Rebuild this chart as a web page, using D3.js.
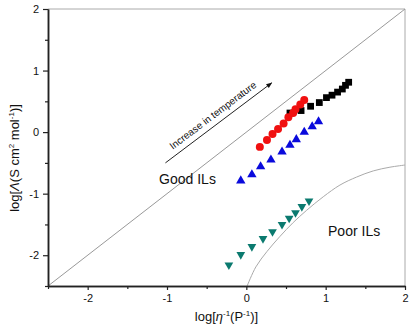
<!DOCTYPE html>
<html>
<head>
<meta charset="utf-8">
<script src="https://cdn.jsdelivr.net/npm/d3@7"></script>
<style>
  body { margin: 0; background: #fff; }
  svg text { font-family: "Liberation Sans", Arial, sans-serif; fill: #111; }
</style>
</head>
<body>
<svg id="chart"></svg>
<script>
// Series values (log units)
const squaresX = [0.55, 0.69, 0.81, 0.92, 1.01, 1.08, 1.15, 1.21, 1.25, 1.29];
const squaresY = [0.31, 0.35, 0.42, 0.48, 0.56, 0.60, 0.65, 0.70, 0.76, 0.81];

const circlesX = [0.17, 0.26, 0.33, 0.40, 0.47, 0.53, 0.59, 0.62, 0.68, 0.73];
const circlesY = [-0.24, -0.13, -0.03, 0.05, 0.14, 0.24, 0.31, 0.37, 0.45, 0.52];

const trianglesUpX = [-0.07, 0.07, 0.18, 0.31, 0.45, 0.55, 0.63, 0.73, 0.83, 0.91];
const trianglesUpY = [-0.79, -0.69, -0.56, -0.45, -0.32, -0.21, -0.12, 0.00, 0.09, 0.17];

const trianglesDownX = [-0.22, -0.07, 0.07, 0.21, 0.33, 0.45, 0.54, 0.62, 0.70, 0.79];
const trianglesDownY = [-2.16, -1.99, -1.86, -1.73, -1.62, -1.50, -1.40, -1.31, -1.21, -1.12];

// Boundary of the "poor ILs" region
const poorCurveX = [0.01, 0.12, 0.26, 0.42, 0.59, 0.76, 0.97, 1.18, 1.39, 1.60, 1.81, 2.0];
const poorCurveY = [-2.5, -2.19, -1.94, -1.70, -1.47, -1.27, -1.05, -0.86, -0.73, -0.63, -0.57, -0.535];

// Ticks
const xTicks = [-2, -1, 0, 1, 2];
const yTicks = [-2, -1, 0, 1, 2];
const xMinorTicks = [-2.5, -1.5, -0.5, 0.5, 1.5];
const yMinorTicks = [-2.5, -1.5, -0.5, 0.5, 1.5];

// Annotations
const arrowFrom = [-1.02, -0.50];
const arrowTo = [0.32, 0.80];
const goodLabelAt = [-1.10, -0.84];
const poorLabelAt = [1.03, -1.69];

const zip = (xs, ys) => xs.map((x, i) => ({ x: x, y: ys[i] }));

class WaldenPlot {

    constructor(_config) {
        this.config = {
            parentElement: _config.parentElement,
            containerWidth: _config.containerWidth || 413,
            containerHeight: _config.containerHeight || 335,
            margin: _config.margin || { top: 9, right: 8, bottom: 49, left: 48 },
            domain: _config.domain || [-2.5, 2]
        }
        this.initVis();
    }

    initVis() {
        let vis = this;

        vis.width = vis.config.containerWidth - vis.config.margin.left - vis.config.margin.right;
        vis.height = vis.config.containerHeight - vis.config.margin.top - vis.config.margin.bottom;

        vis.xScale = d3.scaleLinear()
            .domain(vis.config.domain)
            .range([0, vis.width]);

        vis.yScale = d3.scaleLinear()
            .domain(vis.config.domain)
            .range([vis.height, 0]);

        vis.svg = d3.select(vis.config.parentElement)
            .attr('width', vis.config.containerWidth)
            .attr('height', vis.config.containerHeight);

        vis.chart = vis.svg.append('g')
            .attr('transform', `translate(${vis.config.margin.left},${vis.config.margin.top})`);

        vis.renderVis();
    }

    renderVis() {
        let vis = this;
        const x = vis.xScale, y = vis.yScale;

        // --------- Frame ---------

        vis.chart.append('line')
            .attr('x1', 0).attr('x2', vis.width)
            .attr('y1', 0).attr('y2', 0)
            .attr('stroke', '#aaa');

        vis.chart.append('line')
            .attr('x1', vis.width).attr('x2', vis.width)
            .attr('y1', 0).attr('y2', vis.height)
            .attr('stroke', '#aaa');

        // Ideal line (slope 1)
        vis.chart.append('line')
            .attr('x1', x(vis.config.domain[0])).attr('y1', y(vis.config.domain[0]))
            .attr('x2', x(vis.config.domain[1])).attr('y2', y(vis.config.domain[1]))
            .attr('stroke', '#999')
            .attr('stroke-width', 1);

        // Poor ILs boundary
        vis.chart.append('path')
            .datum(zip(poorCurveX, poorCurveY))
            .attr('d', d3.line()
                .x(d => x(d.x))
                .y(d => y(d.y))
                .curve(d3.curveCatmullRom))
            .attr('fill', 'none')
            .attr('stroke', '#aaa')
            .attr('stroke-width', 1);

        // --------- Axes ---------

        const fmt = d => String(d);

        vis.chart.append('g')
            .attr('class', 'x-minor')
            .attr('transform', `translate(0,${vis.height})`)
            .call(d3.axisBottom(x).tickValues(xMinorTicks).tickFormat('').tickSize(3).tickSizeOuter(0));

        vis.chart.append('g')
            .attr('class', 'y-minor')
            .call(d3.axisLeft(y).tickValues(yMinorTicks).tickFormat('').tickSize(3).tickSizeOuter(0));

        vis.xAxisG = vis.chart.append('g')
            .attr('transform', `translate(0,${vis.height})`)
            .call(d3.axisBottom(x).tickValues(xTicks).tickFormat(fmt).tickSize(4).tickSizeOuter(0).tickPadding(4));

        vis.yAxisG = vis.chart.append('g')
            .call(d3.axisLeft(y).tickValues(yTicks).tickFormat(fmt).tickSize(5).tickSizeOuter(0).tickPadding(4));

        vis.chart.selectAll('.domain')
            .attr('stroke', '#222')
            .attr('stroke-width', 1.5);
        vis.chart.selectAll('.tick line')
            .attr('stroke', '#222')
            .attr('stroke-width', 1.2);
        vis.chart.selectAll('.tick text')
            .attr('font-size', 11)
            .attr('font-family', '"Liberation Sans", Arial, sans-serif')
            .attr('fill', '#111');

        // Axis titles
        const xTitle = vis.svg.append('text')
            .attr('x', vis.config.margin.left + vis.width / 2)
            .attr('y', 321)
            .attr('text-anchor', 'middle')
            .attr('font-size', 13);
        xTitle.append('tspan').text('log[');
        xTitle.append('tspan').attr('font-style', 'italic').text('η');
        xTitle.append('tspan').attr('dy', -5).attr('font-size', 8).text('-1');
        xTitle.append('tspan').attr('dy', 5).text('(P');
        xTitle.append('tspan').attr('dy', -5).attr('font-size', 8).text('-1');
        xTitle.append('tspan').attr('dy', 5).text(')]');

        const yTitle = vis.svg.append('text')
            .attr('transform', 'translate(19,158) rotate(-90)')
            .attr('text-anchor', 'middle')
            .attr('font-size', 13);
        yTitle.append('tspan').text('log[');
        yTitle.append('tspan').attr('font-style', 'italic').text('Λ');
        yTitle.append('tspan').text('(S cm');
        yTitle.append('tspan').attr('dy', -5).attr('font-size', 8).text('2');
        yTitle.append('tspan').attr('dy', 5).text(' mol');
        yTitle.append('tspan').attr('dy', -5).attr('font-size', 8).text('-1');
        yTitle.append('tspan').attr('dy', 5).text(')]');

        // --------- Annotations ---------

        vis.svg.append('defs').append('marker')
            .attr('id', 'arrowhead')
            .attr('viewBox', '0 0 10 10')
            .attr('refX', 9).attr('refY', 5)
            .attr('markerWidth', 7).attr('markerHeight', 6)
            .attr('orient', 'auto')
            .append('path')
            .attr('d', 'M0,1 L10,5 L0,9 Z')
            .attr('fill', '#111');

        const ax1 = x(arrowFrom[0]), ay1 = y(arrowFrom[1]);
        const ax2 = x(arrowTo[0]), ay2 = y(arrowTo[1]);

        vis.chart.append('line')
            .attr('x1', ax1).attr('y1', ay1)
            .attr('x2', ax2).attr('y2', ay2)
            .attr('stroke', '#222')
            .attr('stroke-width', 1)
            .attr('marker-end', 'url(#arrowhead)');

        const angle = Math.atan2(ay2 - ay1, ax2 - ax1);
        const len = Math.hypot(ax2 - ax1, ay2 - ay1);
        const offset = 6;
        const tx = ax1 + Math.cos(angle) * len / 2 + Math.sin(angle) * offset;
        const ty = ay1 + Math.sin(angle) * len / 2 - Math.cos(angle) * offset;

        vis.chart.append('text')
            .attr('transform', `translate(${tx},${ty}) rotate(${angle * 180 / Math.PI})`)
            .attr('text-anchor', 'middle')
            .attr('font-size', 10)
            .text('Increase in temperature');

        vis.chart.append('text')
            .attr('x', x(goodLabelAt[0]))
            .attr('y', y(goodLabelAt[1]))
            .attr('font-size', 14)
            .text('Good ILs');

        vis.chart.append('text')
            .attr('x', x(poorLabelAt[0]))
            .attr('y', y(poorLabelAt[1]))
            .attr('font-size', 14)
            .text('Poor ILs');

        // --------- Points ---------

        const series = [
            { values: zip(squaresX, squaresY), type: d3.symbolSquare, size: 46, color: '#000', rotate: 0 },
            { values: zip(trianglesUpX, trianglesUpY), type: d3.symbolTriangle, size: 38, color: '#0a0adc', rotate: 0 },
            { values: zip(trianglesDownX, trianglesDownY), type: d3.symbolTriangle, size: 33, color: '#0b7a6f', rotate: 180 },
            { values: zip(circlesX, circlesY), type: d3.symbolCircle, size: 50, color: '#f01010', rotate: 0 }
        ];

        series.forEach((s, i) => {
            vis.chart.selectAll(`.pt-${i}`)
                .data(s.values)
                .join('path')
                .attr('class', `pt-${i}`)
                .attr('d', d3.symbol().type(s.type).size(s.size))
                .attr('transform', d => `translate(${x(d.x)},${y(d.y)}) rotate(${s.rotate})`)
                .attr('fill', s.color);
        });
    }
}

const plot = new WaldenPlot({ parentElement: '#chart' });
</script>
</body>
</html>
